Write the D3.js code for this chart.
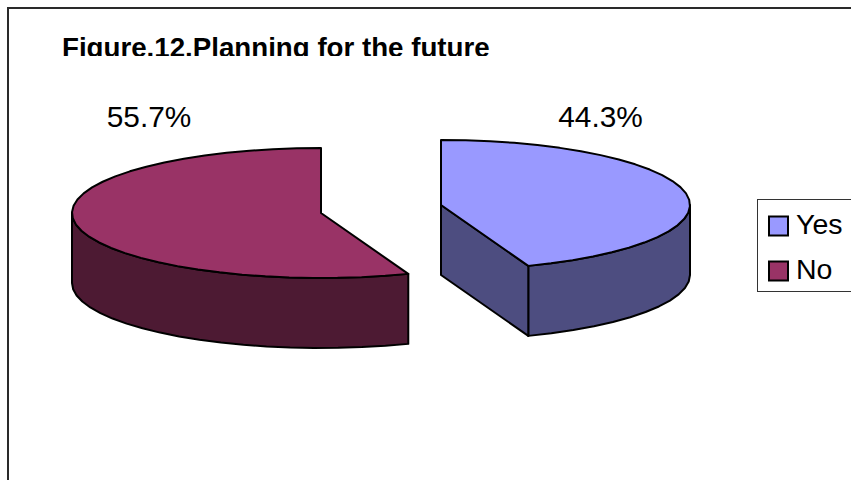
<!DOCTYPE html>
<html>
<head>
<meta charset="utf-8">
<script src="https://cdn.jsdelivr.net/npm/d3@7"></script>
<style>
html, body { margin: 0; padding: 0; background: #fff; }
svg { display: block; }
text { font-family: "Liberation Sans", Arial, sans-serif; fill: #000; }
</style>
</head>
<body>
<script>
const categories = ["Yes", "No"];
const shares = [44.3, 55.7];
const shareLabels = ["44.3%", "55.7%"];
const topColors = ["#9999ff", "#993366"];
const sideColors = ["#4d4d80", "#4d1a33"];
const titleText = "Figure.12.Planning for the future";

const width = 851, height = 480;
const rx = 249, ry = 65, depth = 70;
// each slice is pulled out sideways from the middle of the pie
const centers = [[441, 205], [321, 213]];
const labelAnchors = [[600.5, 127], [149, 127]];

const svg = d3.select("body").append("svg").attr("width", width).attr("height", height);

svg.append("rect").attr("x", 8).attr("y", 8)
  .attr("width", width + 10).attr("height", height + 10)
  .attr("fill", "#fff").attr("stroke", "#2a2a2a").attr("stroke-width", 2);

svg.append("clipPath").attr("id", "title-clip")
  .append("rect").attr("x", 0).attr("y", 0).attr("width", width).attr("height", 56);

svg.append("text").attr("x", 62).attr("y", 57)
  .attr("clip-path", "url(#title-clip)")
  .attr("font-size", 27.7).attr("font-weight", "bold")
  .text(titleText);

const slices = d3.pie().sort(null)(shares);
const line = d3.line();

// angles run clockwise from twelve o'clock, squashed into the tilted ellipse
const onRim = (c, a, dy = 0) => [c[0] + rx * Math.sin(a), c[1] - ry * Math.cos(a) + dy];

// the rim is a chain of short straight segments
function arcAngles(a0, a1) {
  const n = Math.max(2, Math.round((a1 - a0) / (Math.PI / 32)));
  return d3.range(n + 1).map(i => a0 + (a1 - a0) * i / n);
}

slices.forEach((s, i) => {
  const c = centers[i];
  const g = svg.append("g").attr("stroke", "#000").attr("stroke-width", 2).attr("stroke-linejoin", "round");
  const rim = arcAngles(s.startAngle, s.endAngle);

  // outer wall: only the front half of the rim can be seen
  const lo = Math.max(s.startAngle, Math.PI / 2);
  const hi = Math.min(s.endAngle, 3 * Math.PI / 2);
  const front = arcAngles(lo, hi);
  const wall = [...front.map(a => onRim(c, a)), ...front.slice().reverse().map(a => onRim(c, a, depth))];
  g.append("path").attr("fill", sideColors[i]).attr("d", line(wall) + "Z");

  // cut face, seen only on the slice whose straight edge turns towards the front
  if (s.startAngle < Math.PI / 2) {
    const p = onRim(c, s.endAngle);
    const face = [c, p, [p[0], p[1] + depth], [c[0], c[1] + depth]];
    g.append("path").attr("fill", sideColors[i]).attr("d", line(face) + "Z");
  }

  const top = [c, ...rim.map(a => onRim(c, a))];
  g.append("path").attr("fill", topColors[i]).attr("d", line(top) + "Z");

  svg.append("text").attr("x", labelAnchors[i][0]).attr("y", labelAnchors[i][1])
    .attr("text-anchor", "middle").attr("font-size", 29.8).text(shareLabels[i]);
});

const legendY = d3.scalePoint().domain(categories).range([226, 271]);
svg.append("rect").attr("x", 757.5).attr("y", 199.5).attr("width", 110).attr("height", 92)
  .attr("fill", "#fff").attr("stroke", "#333").attr("stroke-width", 1);
const items = svg.selectAll("g.legend").data(categories).join("g").attr("class", "legend")
  .attr("transform", d => `translate(0,${legendY(d)})`);
items.append("rect").attr("x", 769).attr("y", -9.5).attr("width", 19).attr("height", 19)
  .attr("fill", (d, i) => topColors[i]).attr("stroke", "#000").attr("stroke-width", 2);
items.append("text").attr("x", 796).attr("y", 7.5).attr("font-size", 28.5).text(d => d);
</script>
</body>
</html>
